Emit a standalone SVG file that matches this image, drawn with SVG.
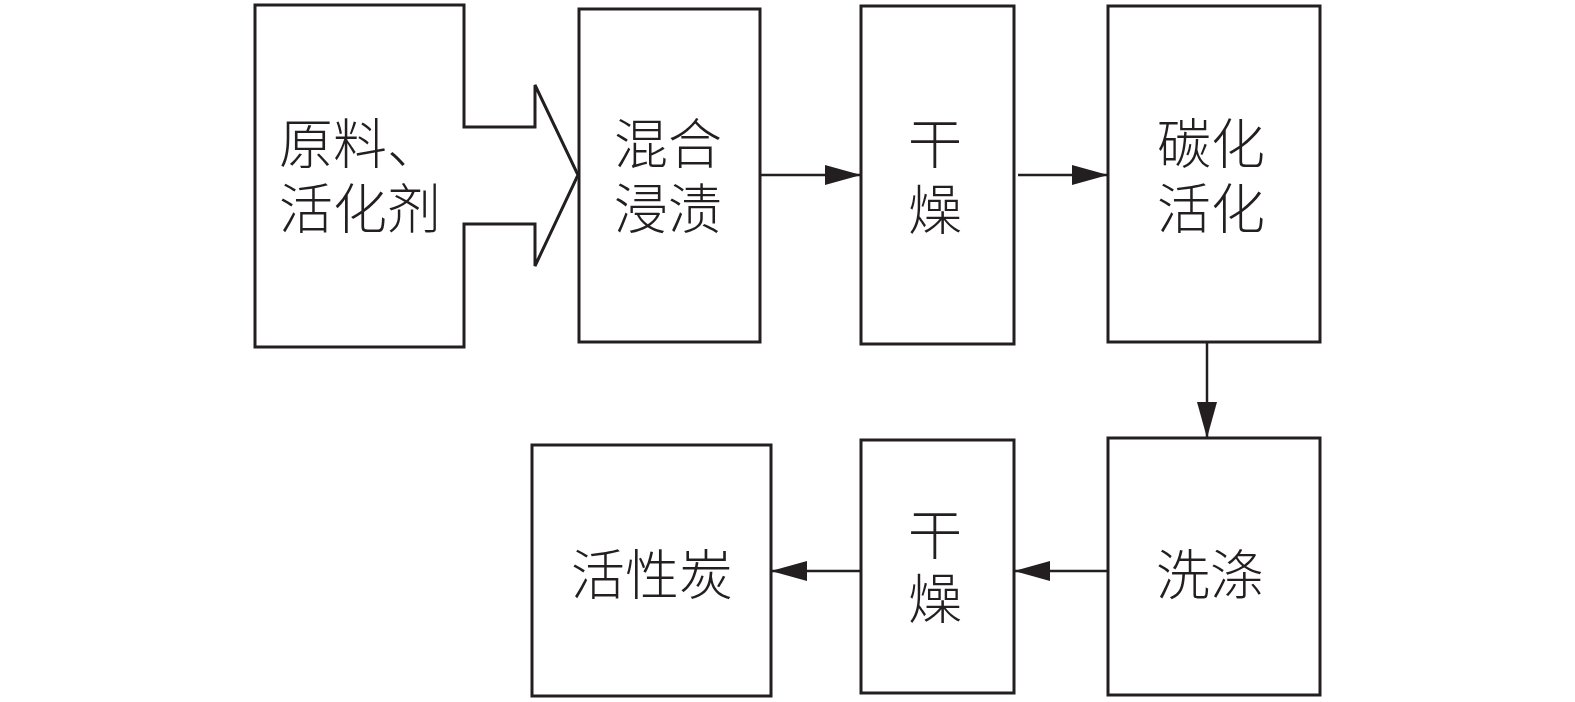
<svg xmlns="http://www.w3.org/2000/svg" width="1575" height="702" viewBox="0 0 1575 702">
<defs>
<marker id="ah" markerUnits="userSpaceOnUse" markerWidth="36" markerHeight="20" refX="36" refY="10" orient="auto">
<path d="M0,0 L36,10 L0,20 z" fill="#231f20"/>
</marker>
<style>
.box{fill:#fff;stroke:#231f20;stroke-width:3}
.lbl{font-family:"Noto Sans CJK SC","Noto Sans CJK JP",sans-serif;font-size:54px;font-weight:300;fill:#231f20;text-anchor:middle;dominant-baseline:central}
.con{stroke:#231f20;stroke-width:2.5;fill:none;marker-end:url(#ah)}
</style>
</defs>
<rect width="1575" height="702" fill="#fff"/>
<g id="n-raw">
<path class="box" d="M255,5 L464,5 L464,127 L535,127 L535,85 L578,175 L535,266 L535,224 L464,224 L464,347 L255,347 Z"/>
<text class="lbl"><tspan x="360" y="140">原料、</tspan><tspan x="360" y="205">活化剂</tspan></text>
</g>
<g id="n-mix">
<rect class="box" x="579" y="9" width="181" height="333"/>
<text class="lbl"><tspan x="668" y="140">混合</tspan><tspan x="668" y="205">浸渍</tspan></text>
</g>
<g id="n-dry1">
<rect class="box" x="861" y="6" width="153" height="338"/>
<text class="lbl"><tspan x="935" y="140">干</tspan><tspan x="935" y="206">燥</tspan></text>
</g>
<g id="n-carb">
<rect class="box" x="1108" y="6" width="212" height="336"/>
<text class="lbl"><tspan x="1211" y="140">碳化</tspan><tspan x="1211" y="205">活化</tspan></text>
</g>
<g id="n-wash">
<rect class="box" x="1108" y="438" width="212" height="257"/>
<text class="lbl" x="1210" y="571">洗涤</text>
</g>
<g id="n-dry2">
<rect class="box" x="861" y="440" width="153" height="253"/>
<text class="lbl"><tspan x="935" y="531">干</tspan><tspan x="935" y="595">燥</tspan></text>
</g>
<g id="n-ac">
<rect class="box" x="532" y="445" width="239" height="251"/>
<text class="lbl" x="652" y="571">活性炭</text>
</g>
<g id="connectors">
<line class="con" x1="760" y1="175" x2="861" y2="175"/>
<line class="con" x1="1018" y1="175" x2="1108" y2="175"/>
<line class="con" x1="1207" y1="342" x2="1207" y2="438"/>
<line class="con" x1="1108" y1="571" x2="1014" y2="571"/>
<line class="con" x1="861" y1="571" x2="771" y2="571"/>
</g>
</svg>
